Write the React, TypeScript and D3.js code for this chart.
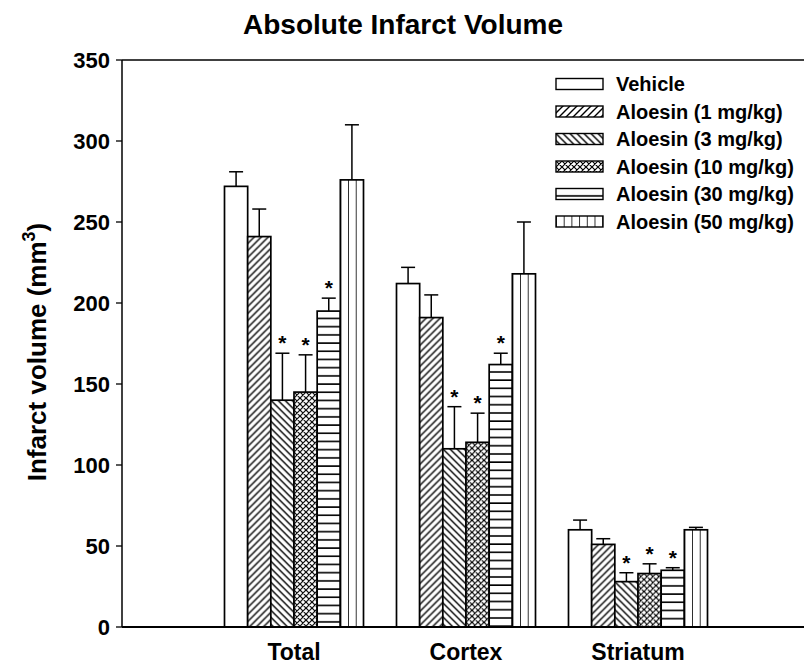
import React from 'react';
import * as d3 from 'd3';

// Regions measured, treatment groups, and their mean infarct volume (mm^3) with SEM
const regions = ['Total', 'Cortex', 'Striatum'];
const treatments = [
  'Vehicle',
  'Aloesin (1 mg/kg)',
  'Aloesin (3 mg/kg)',
  'Aloesin (10 mg/kg)',
  'Aloesin (30 mg/kg)',
  'Aloesin (50 mg/kg)',
];
const totalMean = [272, 241, 140, 145, 195, 276];
const totalSem = [9, 17, 29, 23, 8, 34];
const cortexMean = [212, 191, 110, 114, 162, 218];
const cortexSem = [10, 14, 26, 18, 7, 32];
const striatumMean = [60, 51, 28, 33, 35, 60];
const striatumSem = [6, 3.5, 5.5, 6, 1.6, 1.5];
// p < 0.05 vs vehicle
const totalSig = [false, false, true, true, true, false];
const cortexSig = [false, false, true, true, true, false];
const striatumSig = [false, false, true, true, true, false];
const yTicks = [0, 50, 100, 150, 200, 250, 300, 350];

const W = 804;
const H = 669;
const FONT = 'Liberation Sans, Arial, Helvetica, sans-serif';

type PatKind = 'none' | 'fwd' | 'back' | 'cross' | 'horiz' | 'vert';
const patternKinds: PatKind[] = ['none', 'fwd', 'back', 'cross', 'horiz', 'vert'];

function Pattern({ id, kind, x, y }: { id: string; kind: PatKind; x: number; y: number }) {
  const sw = 1.4;
  if (kind === 'fwd') {
    const s = 7;
    return (
      <pattern id={id} patternUnits="userSpaceOnUse" x={x} y={y} width={s} height={s}>
        <rect width={s} height={s} fill="#fff" />
        <path d={`M0,${s} L${s},0 M-1,1 L1,-1 M${s - 1},${s + 1} L${s + 1},${s - 1}`} stroke="#000" strokeWidth={sw} />
      </pattern>
    );
  }
  if (kind === 'back') {
    const s = 7;
    return (
      <pattern id={id} patternUnits="userSpaceOnUse" x={x} y={y} width={s} height={s}>
        <rect width={s} height={s} fill="#fff" />
        <path d={`M0,0 L${s},${s} M-1,${s - 1} L1,${s + 1} M${s - 1},-1 L${s + 1},1`} stroke="#000" strokeWidth={sw} />
      </pattern>
    );
  }
  if (kind === 'cross') {
    const s = 6;
    return (
      <pattern id={id} patternUnits="userSpaceOnUse" x={x} y={y} width={s} height={s}>
        <rect width={s} height={s} fill="#fff" />
        <path
          d={`M0,${s} L${s},0 M-1,1 L1,-1 M${s - 1},${s + 1} L${s + 1},${s - 1} M0,0 L${s},${s} M-1,${s - 1} L1,${s + 1} M${s - 1},-1 L${s + 1},1`}
          stroke="#000"
          strokeWidth={1.2}
        />
      </pattern>
    );
  }
  if (kind === 'horiz') {
    const h = 8.2;
    return (
      <pattern id={id} patternUnits="userSpaceOnUse" x={x} y={y} width={10} height={h}>
        <rect width={10} height={h} fill="#fff" />
        <path d={`M-1,${h - 0.8} L11,${h - 0.8}`} stroke="#000" strokeWidth={1.6} />
      </pattern>
    );
  }
  if (kind === 'vert') {
    const w = 7.7;
    return (
      <pattern id={id} patternUnits="userSpaceOnUse" x={x} y={y} width={w} height={10}>
        <rect width={w} height={10} fill="#fff" />
        <path d={`M0,-1 L0,11`} stroke="#000" strokeWidth={1.6} />
      </pattern>
    );
  }
  return null;
}

export default function App() {
  const y = d3.scaleLinear().domain([0, 350]).range([627, 60]);
  const xGroup = d3.scaleLinear().domain([0, 4]).range([122, 810]);
  const xInner = d3.scaleBand<string>().domain(treatments).range([-69.5, 69.5]).padding(0);
  const bw = xInner.bandwidth();

  const means = [totalMean, cortexMean, striatumMean];
  const sems = [totalSem, cortexSem, striatumSem];
  const sigs = [totalSig, cortexSig, striatumSig];

  const bars = regions.flatMap((r, gi) =>
    treatments.map((t, ti) => {
      const cx = xGroup(gi + 1);
      const x0 = cx + (xInner(t) as number);
      const v = means[gi][ti];
      const e = sems[gi][ti];
      return {
        key: `${gi}-${ti}`,
        ti,
        x: x0,
        w: bw,
        top: y(v),
        cap: y(v + e),
        sig: sigs[gi][ti],
      };
    })
  );

  const legendX = 556;
  const legendW = 47;
  const legendH = 11;
  const legendY0 = 84;
  const legendStep = 27.5;

  const x0 = xGroup.range()[0];
  const yBottom = y(0);
  const yTop = y(350);

  return (
    <svg
      width={W}
      height={H}
      viewBox={`0 0 ${W} ${H}`}
      style={{ position: 'absolute', left: 0, top: 0, background: '#fff', fontFamily: FONT }}
    >
      <rect width={W} height={H} fill="#fff" />
      <defs>
        {bars.map((b) =>
          patternKinds[b.ti] === 'none' ? null : (
            <Pattern key={b.key} id={`p-${b.key}`} kind={patternKinds[b.ti]} x={b.x} y={b.top} />
          )
        )}
        {treatments.map((t, i) =>
          patternKinds[i] === 'none' ? null : (
            <Pattern
              key={`lg-${i}`}
              id={`pl-${i}`}
              kind={patternKinds[i]}
              x={legendX}
              y={legendY0 + i * legendStep - legendH / 2}
            />
          )
        )}
      </defs>

      {/* Title */}
      <text x={403} y={34} textAnchor="middle" fontSize={28} fontWeight="bold" fill="#000">
        Absolute Infarct Volume
      </text>

      {/* Bars */}
      {bars.map((b) => (
        <g key={b.key}>
          <line x1={b.x + b.w / 2} x2={b.x + b.w / 2} y1={b.top} y2={b.cap} stroke="#000" strokeWidth={1.5} />
          <line x1={b.x + b.w / 2 - 7} x2={b.x + b.w / 2 + 7} y1={b.cap} y2={b.cap} stroke="#000" strokeWidth={1.5} />
          <rect
            x={b.x}
            y={b.top}
            width={b.w}
            height={yBottom - b.top}
            fill={patternKinds[b.ti] === 'none' ? '#fff' : `url(#p-${b.key})`}
            stroke="#000"
            strokeWidth={1.7}
          />
          {b.sig && (
            <text x={b.x + b.w / 2} y={b.cap - 3} textAnchor="middle" fontSize={21} fontWeight="bold" fill="#000">
              *
            </text>
          )}
        </g>
      ))}

      {/* Axes */}
      <line x1={x0} x2={W} y1={yBottom} y2={yBottom} stroke="#000" strokeWidth={2} />
      <line x1={x0} x2={W} y1={yTop} y2={yTop} stroke="#000" strokeWidth={1.5} />
      <line x1={x0} x2={x0} y1={yTop} y2={yBottom} stroke="#000" strokeWidth={1.5} />
      {yTicks.map((t) => (
        <g key={t}>
          <line x1={x0 - 6} x2={x0} y1={y(t)} y2={y(t)} stroke="#000" strokeWidth={1.3} />
          <text x={x0 - 12} y={y(t)} dy="0.36em" textAnchor="end" fontSize={22} fontWeight="bold" fill="#000">
            {t}
          </text>
        </g>
      ))}
      {regions.map((r, gi) => (
        <text key={r} x={xGroup(gi + 1)} y={660} textAnchor="middle" fontSize={23} fontWeight="bold" fill="#000">
          {r}
        </text>
      ))}

      {/* Y axis title */}
      <text
        transform={`translate(46, 352) rotate(-90)`}
        textAnchor="middle"
        fontSize={26}
        fontWeight="bold"
        fill="#000"
      >
        Infarct volume (mm
        <tspan dy={-11} fontSize={18}>3</tspan>
        <tspan dy={11}>)</tspan>
      </text>

      {/* Legend */}
      {treatments.map((t, i) => {
        const cy = legendY0 + i * legendStep;
        return (
          <g key={t}>
            <rect
              x={legendX}
              y={cy - legendH / 2}
              width={legendW}
              height={legendH}
              fill={patternKinds[i] === 'none' ? '#fff' : `url(#pl-${i})`}
              stroke="#000"
              strokeWidth={1.4}
            />
            <text x={616} y={cy} dy="0.36em" fontSize={20} fontWeight="bold" fill="#000">
              {t}
            </text>
          </g>
        );
      })}
    </svg>
  );
}
